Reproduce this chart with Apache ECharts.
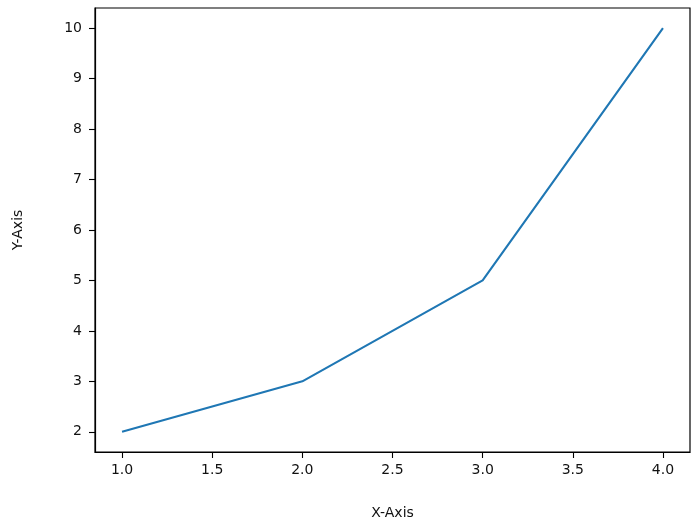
<!DOCTYPE html>
<html>
<head>
<meta charset="utf-8">
<script src="https://cdn.jsdelivr.net/npm/echarts@6/dist/echarts.min.js"></script>
<style>html,body{margin:0;padding:0;background:#fff}#c{width:697px;height:526px}</style>
</head>
<body>
<div id="c"></div>
<script>
const xValues = [1, 2, 3, 4];
const yValues = [2, 3, 5, 10];
const xTicks = [1.0, 1.5, 2.0, 2.5, 3.0, 3.5, 4.0];
const yTicks = [2, 3, 4, 5, 6, 7, 8, 9, 10];
const xTitle = 'X-Axis';
const yTitle = 'Y-Axis';

const font = 'DejaVu Sans';
const chart = echarts.init(document.getElementById('c'), null, {renderer: 'canvas'});
chart.setOption({
  animation: false,
  grid: {left: 95, right: 7, top: 8, bottom: 74, show: true, borderColor: '#000', borderWidth: 1.2, containLabel: false},
  xAxis: {
    type: 'value', min: 0.85, max: 4.15,
    name: xTitle, nameLocation: 'middle', nameGap: 54,
    nameTextStyle: {fontFamily: font, fontSize: 14, color: '#111'},
    axisLine: {show: true, onZero: false, lineStyle: {color: '#000', width: 1.2}},
    axisTick: {show: true, length: 6, lineStyle: {color: '#000', width: 1.1}, customValues: xTicks},
    axisLabel: {fontFamily: font, fontSize: 14, color: '#111', margin: 11, customValues: xTicks,
      formatter: v => Number(v).toFixed(1)},
    splitLine: {show: false}
  },
  yAxis: {
    type: 'value', min: 1.6, max: 10.4,
    name: yTitle, nameLocation: 'middle', nameGap: 70,
    nameTextStyle: {fontFamily: font, fontSize: 14, color: '#111'},
    axisLine: {show: true, onZero: false, lineStyle: {color: '#000', width: 1.2}},
    axisTick: {show: true, length: 6, lineStyle: {color: '#000', width: 1.1}, customValues: yTicks},
    axisLabel: {fontFamily: font, fontSize: 14, color: '#111', margin: 13, customValues: yTicks,
      formatter: v => String(Math.round(v))},
    splitLine: {show: false}
  },
  series: [{
    type: 'line',
    data: xValues.map((x, i) => [x, yValues[i]]),
    showSymbol: false,
    lineStyle: {color: '#1f77b4', width: 2.1},
    itemStyle: {color: '#1f77b4'}
  }]
});
</script>
</body>
</html>
